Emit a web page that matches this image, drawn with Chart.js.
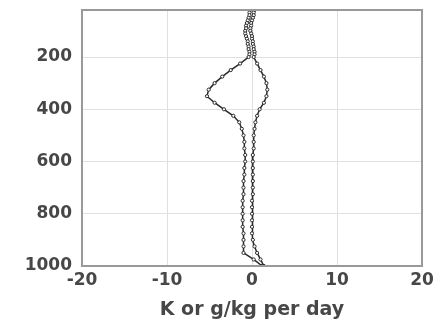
<!DOCTYPE html>
<html>
<head>
<meta charset="utf-8">
<script src="https://cdn.jsdelivr.net/npm/chart.js@4.4.0/dist/chart.umd.min.js"></script>
<style>
  html, body { margin: 0; padding: 0; background: #fff; }
  #wrap { width: 442px; height: 321px; }
</style>
</head>
<body>
<div id="wrap"><canvas id="profile" width="442" height="321"></canvas></div>
<script>
// ------------------- Data ------------------- //

// pressure levels (hPa), denser near the top
const levels = [20, 30, 40, 50, 60, 70, 80, 90, 100, 110, 120, 130, 140, 150, 160, 170, 180,
  190, 200, 225, 250, 275, 300, 325, 350, 375, 400, 425, 450, 475, 500, 525, 550, 575, 600,
  625, 650, 675, 700, 725, 750, 775, 800, 825, 850, 875, 900, 925, 950, 975, 1000];

// left profile (K or g/kg per day)
const seriesA = [-0.2, -0.3, -0.3, -0.4, -0.5, -0.6, -0.7, -0.7, -0.8, -0.8, -0.7, -0.6, -0.5,
  -0.5, -0.4, -0.4, -0.3, -0.3, -0.4, -1.4, -2.5, -3.5, -4.4, -5.1, -5.3, -4.4, -3.3, -2.2,
  -1.5, -1.2, -1.0, -0.9, -0.9, -0.8, -0.8, -0.9, -0.9, -1.0, -1.0, -1.0, -1.1, -1.1, -1.1,
  -1.1, -1.1, -1.0, -1.0, -1.0, -1.0, 0.2, 1.2];

// right profile
const seriesB = [0.3, 0.2, 0.2, 0.1, 0.0, -0.1, -0.1, -0.2, -0.2, -0.1, 0.0, 0.0, 0.1,
  0.1, 0.2, 0.2, 0.3, 0.3, 0.2, 0.6, 1.0, 1.4, 1.7, 1.8, 1.7, 1.4, 0.9, 0.6, 0.4, 0.3, 0.2,
  0.2, 0.2, 0.1, 0.1, 0.1, 0.1, 0.1, 0.1, 0.1, 0.0, 0.0, 0.0, 0.0, 0.0, 0.0, 0.1, 0.3, 0.6,
  1.0, 1.4];

const xTicks = [-20, -10, 0, 10, 20];
const yTicks = [200, 400, 600, 800, 1000];

// ------------------- Helpers ------------------- //

function toPoints(values) {
  return values.map((v, i) => ({ x: v, y: levels[i] }));
}

function profileSet(values) {
  return {
    data: toPoints(values),
    showLine: true,
    borderColor: "#2a2a2a",
    borderWidth: 1.5,
    pointRadius: 1.6,
    pointBorderWidth: 1,
    pointBorderColor: "#2a2a2a",
    pointBackgroundColor: "#fff",
  };
}

const tickFont = { family: "DejaVu Sans, sans-serif", size: 17, weight: "bold" };
const titleFont = { family: "DejaVu Sans, sans-serif", size: 19, weight: "bold" };
const textColor = "#474747";

// ------------------- Chart ------------------- //
new Chart(document.getElementById("profile"), {
  type: "scatter",
  data: { datasets: [profileSet(seriesA), profileSet(seriesB)] },
  options: {
    responsive: false,
    animation: false,
    layout: { padding: { left: 0, right: 20, top: 10, bottom: 0 } },
    plugins: { legend: { display: false }, tooltip: { enabled: false } },
    scales: {
      x: {
        type: "linear",
        min: -20,
        max: 20,
        afterBuildTicks: (s) => { s.ticks = xTicks.map((v) => ({ value: v })); },
        afterFit: (s) => { s.height = 55; s.paddingLeft = 0; s.paddingRight = 0; },
        grid: { color: "#e0e0e0", lineWidth: 1, drawTicks: false },
        border: { color: "#999", width: 2 },
        ticks: { color: textColor, font: tickFont, padding: 4, callback: (v) => String(v) },
        title: {
          display: true,
          text: "K or g/kg per day",
          color: textColor,
          font: titleFont,
          padding: { top: 0, bottom: 0 },
        },
      },
      y: {
        type: "linear",
        reverse: true,
        min: 20,
        max: 1000,
        afterBuildTicks: (s) => { s.ticks = yTicks.map((v) => ({ value: v })); },
        afterFit: (s) => { s.width = 82; s.paddingTop = 0; s.paddingBottom = 0; },
        grid: { color: "#e0e0e0", lineWidth: 1, drawTicks: false },
        border: { color: "#999", width: 2 },
        ticks: { color: textColor, font: tickFont, padding: 10, callback: (v) => String(v) },
      },
    },
  },
  plugins: [{
    // right and top frame lines
    id: "frame",
    afterDraw(chart) {
      const { ctx, chartArea: a } = chart;
      ctx.save();
      ctx.strokeStyle = "#999";
      ctx.lineWidth = 2;
      ctx.strokeRect(a.left, a.top, a.right - a.left, a.bottom - a.top);
      ctx.restore();
    },
  }],
});
</script>
</body>
</html>
